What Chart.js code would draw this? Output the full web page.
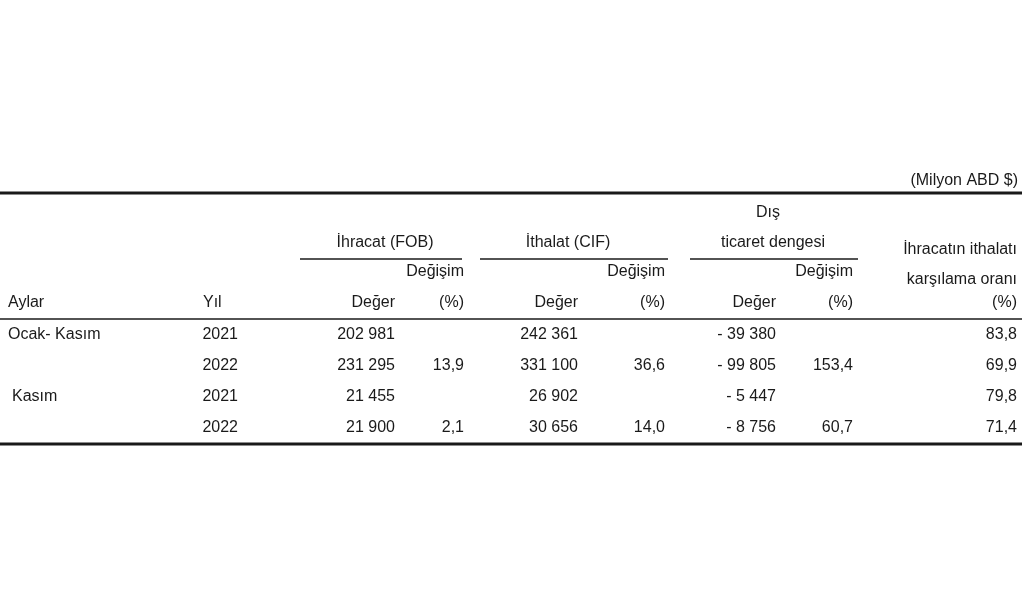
<!DOCTYPE html>
<html><head><meta charset="utf-8">
<script src="https://cdn.jsdelivr.net/npm/chart.js@4/dist/chart.umd.min.js"></script>
<style>html,body{margin:0;padding:0;background:#fff}#w{width:1024px;height:607px}</style>
</head><body><div id="w"><canvas id="c"></canvas></div>
<script>
const unit = "(Milyon ABD $)";
const periods = ["Ocak- Kasım", "", "Kasım", ""];
const years = ["2021", "2022", "2021", "2022"];
const exportVal = ["202 981", "231 295", "21 455", "21 900"];
const exportChg = ["", "13,9", "", "2,1"];
const importVal = ["242 361", "331 100", "26 902", "30 656"];
const importChg = ["", "36,6", "", "14,0"];
const balanceVal = ["- 39 380", "- 99 805", "- 5 447", "- 8 756"];
const balanceChg = ["", "153,4", "", "60,7"];
const coverage = ["83,8", "69,9", "79,8", "71,4"];

const colX = {per:8, yr:238, ev:395, ec:464, iv:578, ic:665, bv:776, bc:853, cov:1017};
const rowY = [335, 366, 397, 428];

const tablePlugin = {
  id:'table',
  afterDraw(chart){
    const ctx = chart.ctx, X = chart.scales.x, Y = chart.scales.y;
    const px = v => X.getPixelForValue(v), py = v => Y.getPixelForValue(v);
    ctx.save();
    ctx.fillStyle = '#1a1a1a';
    ctx.font = '16px "Liberation Sans", Arial, sans-serif';
    ctx.textBaseline = 'middle';
    const t = (s, x, y, a) => { ctx.textAlign = a; ctx.fillText(s, px(x), py(y)); };
    const line = (x1, x2, y, w) => { ctx.strokeStyle='#1a1a1a'; ctx.lineWidth=w; ctx.beginPath(); ctx.moveTo(px(x1), py(y)); ctx.lineTo(px(x2), py(y)); ctx.stroke(); };
    t(unit, 1018, 181, 'right');
    line(0, 1022, 193, 3);
    t("İhracat (FOB)", 385, 243, 'center');
    t("İthalat (CIF)", 568, 243, 'center');
    t("Dış", 768, 213, 'center');
    t("ticaret dengesi", 773, 243, 'center');
    line(300, 462, 259, 1.5);
    line(480, 668, 259, 1.5);
    line(690, 858, 259, 1.5);
    t("Değişim", 464, 272, 'right');
    t("Değişim", 665, 272, 'right');
    t("Değişim", 853, 272, 'right');
    t("İhracatın ithalatı", 1017, 250, 'right');
    t("karşılama oranı", 1017, 280, 'right');
    t("Aylar", 8, 303, 'left');
    t("Yıl", 203, 303, 'left');
    t("Değer", colX.ev, 303, 'right'); t("(%)", colX.ec, 303, 'right');
    t("Değer", colX.iv, 303, 'right'); t("(%)", colX.ic, 303, 'right');
    t("Değer", colX.bv, 303, 'right'); t("(%)", colX.bc, 303, 'right');
    t("(%)", colX.cov, 303, 'right');
    line(0, 1022, 319, 1.5);
    rowY.forEach((y, i) => {
      t(periods[i], i === 2 ? 12 : colX.per, y, 'left');
      t(years[i], colX.yr, y, 'right');
      t(exportVal[i], colX.ev, y, 'right');
      t(exportChg[i], colX.ec, y, 'right');
      t(importVal[i], colX.iv, y, 'right');
      t(importChg[i], colX.ic, y, 'right');
      t(balanceVal[i], colX.bv, y, 'right');
      t(balanceChg[i], colX.bc, y, 'right');
      t(coverage[i], colX.cov, y, 'right');
    });
    line(0, 1022, 444, 3);
    ctx.restore();
  }
};

new Chart(document.getElementById('c'), {
  type:'scatter',
  data:{datasets:[{data:[]}]},
  options:{
    responsive:true, maintainAspectRatio:false, animation:false,
    layout:{padding:0},
    plugins:{legend:{display:false}, tooltip:{enabled:false}},
    scales:{
      x:{type:'linear', min:0, max:1024, display:false},
      y:{type:'linear', min:0, max:607, reverse:true, display:false}
    }
  },
  plugins:[tablePlugin]
});
</script></body></html>
